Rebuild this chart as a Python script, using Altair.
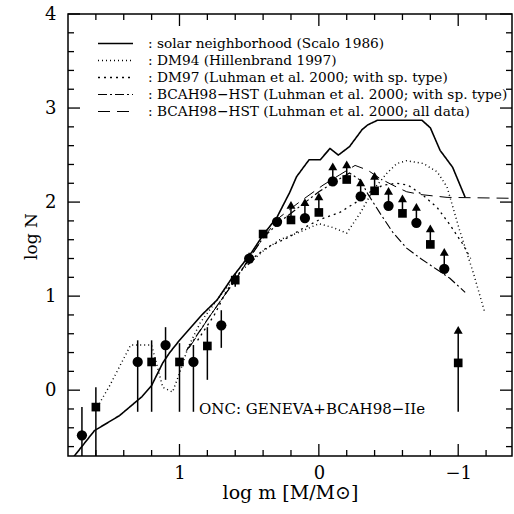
import altair as alt
import pandas as pd

# ---------------- data ----------------
solar_x = [1.76, 1.61, 1.43, 1.27, 1.20, 1.12, 1.07, 1.00, 0.84, 0.73, 0.62, 0.48, 0.40, 0.30,
           0.21, 0.16, 0.07, -0.01, -0.08, -0.14, -0.22, -0.31, -0.35, -0.42, -0.74, -0.80,
           -0.87, -0.96, -1.05]
solar_y = [-0.71, -0.43, -0.27, -0.07, 0.05, 0.29, 0.40, 0.53, 0.80, 0.96, 1.20, 1.47, 1.65, 1.84,
           2.10, 2.27, 2.45, 2.45, 2.57, 2.50, 2.59, 2.77, 2.82, 2.87, 2.87, 2.79,
           2.55, 2.37, 2.05]

dm94_x = [1.59, 1.50, 1.35, 1.20, 1.12, 1.05, 1.00, 0.94, 0.85, 0.70, 0.55, 0.40, 0.28, 0.14,
          0.00, -0.10, -0.20, -0.30, -0.39, -0.49, -0.56, -0.63, -0.75, -0.85, -0.92, -1.01,
          -1.11, -1.19]
dm94_y = [-0.18, 0.05, 0.48, 0.48, 0.03, -0.02, 0.18, 0.45, 0.72, 1.02, 1.28, 1.48, 1.60, 1.68,
          1.77, 1.73, 1.67, 1.89, 2.13, 2.31, 2.41, 2.44, 2.41, 2.32, 2.16, 1.70,
          1.24, 0.83]

dm97_x = [0.87, 0.75, 0.66, 0.52, 0.37, 0.21, 0.14, 0.00, -0.15, -0.27, -0.37, -0.46, -0.56,
          -0.64, -0.75, -0.85, -0.94, -1.03, -1.09]
dm97_y = [0.53, 0.80, 1.06, 1.35, 1.52, 1.63, 1.70, 1.81, 1.89, 2.00, 2.11, 2.18, 2.20,
          2.18, 2.07, 1.94, 1.76, 1.56, 1.40]

bsp_x = [0.95, 0.80, 0.60, 0.50, 0.40, 0.28, 0.14, 0.00, -0.13, -0.22, -0.30, -0.35, -0.44,
         -0.53, -0.63, -0.73, -0.85, -0.94, -1.05]
bsp_y = [0.42, 0.75, 1.17, 1.40, 1.62, 1.79, 1.95, 2.11, 2.23, 2.31, 2.23, 2.09, 1.88,
         1.68, 1.51, 1.40, 1.28, 1.19, 1.04]

ball_x = [0.93, 0.80, 0.60, 0.50, 0.40, 0.28, 0.14, -0.03, -0.15, -0.26, -0.35, -0.44, -0.53,
          -0.63, -0.73, -0.92, -1.40]
ball_y = [0.45, 0.75, 1.17, 1.40, 1.62, 1.84, 2.00, 2.18, 2.29, 2.39, 2.34, 2.25, 2.18,
          2.11, 2.08, 2.05, 2.04]

series_labels = [
    ": solar neighborhood (Scalo 1986)",
    ": DM94 (Hillenbrand 1997)",
    ": DM97 (Luhman et al. 2000; with sp. type)",
    ": BCAH98\u2212HST (Luhman et al. 2000; with sp. type)",
    ": BCAH98\u2212HST (Luhman et al. 2000; all data)",
]

pt_x = [1.7, 1.6, 1.3, 1.2, 1.1, 1.0, 0.9, 0.8, 0.7, 0.6, 0.5, 0.4, 0.3, 0.2, 0.1, 0.0,
        -0.1, -0.2, -0.3, -0.4, -0.5, -0.6, -0.7, -0.8, -0.9, -1.0]
pt_y = [-0.48, -0.18, 0.30, 0.30, 0.48, 0.30, 0.30, 0.47, 0.69, 1.17, 1.40, 1.66, 1.79, 1.81,
        1.83, 1.89, 2.22, 2.24, 2.06, 2.12, 1.96, 1.88, 1.78, 1.55, 1.29, 0.29]
pt_shape = ["circle", "square", "circle", "square", "circle", "square", "circle", "square",
            "circle", "square", "circle", "square", "circle", "square", "circle", "square",
            "circle", "square", "circle", "square", "circle", "square", "circle", "square",
            "circle", "square"]
pt_lo = [-0.80, -0.80, -0.23, -0.23, 0.11, -0.23, -0.23, 0.11, 0.45, 1.10, 1.34, 1.66, 1.79, 1.81,
         1.83, 1.89, 2.22, 2.24, 2.06, 2.12, 1.96, 1.88, 1.78, 1.55, 1.29, -0.23]
pt_hi = [-0.18, 0.03, 0.53, 0.53, 0.67, 0.50, 0.48, 0.67, 0.85, 1.24, 1.46, 1.66, 1.79, 1.81,
         1.83, 1.89, 2.22, 2.24, 2.06, 2.12, 1.96, 1.88, 1.78, 1.55, 1.29, 0.29]
pt_arrow = [0, 0, 0, 0, 0, 0, 0, 0, 0, 0, 0, 0, 0, 0.16,
            0.17, 0.17, 0.16, 0.16, 0.15, 0.16, 0.16, 0.16, 0.17, 0.17, 0.18, 0.35]

x_major = [1, 0, -1]
x_minor = [1.6, 1.4, 1.2, 0.8, 0.6, 0.4, 0.2, -0.2, -0.4, -0.6, -0.8, -1.2]
y_major = [0, 1, 2, 3, 4]
y_minor = [-0.6, -0.4, -0.2, 0.2, 0.4, 0.6, 0.8, 1.2, 1.4, 1.6, 1.8, 2.2, 2.4, 2.6, 2.8,
           3.2, 3.4, 3.6, 3.8]

annot_text = ["ONC: GENEVA+BCAH98\u2212IIe"]
annot_x = [0.86]
annot_y = [-0.20]

# ---------------- tables ----------------
rows = []
for lab, xs, ys in zip(series_labels,
                       [solar_x, dm94_x, dm97_x, bsp_x, ball_x],
                       [solar_y, dm94_y, dm97_y, bsp_y, ball_y]):
    for i, (a, b) in enumerate(zip(xs, ys)):
        rows.append({"series": lab, "x": a, "y": b, "order": i})
lines_df = pd.DataFrame(rows)

pts = pd.DataFrame({"x": pt_x, "y": pt_y, "shape": pt_shape, "lo": pt_lo, "hi": pt_hi,
                    "arrow": pt_arrow})
pts["top"] = pts["y"] + pts["arrow"]

W, H = 444, 442
FONT = "DejaVu Serif"

xscale = alt.Scale(domain=[-1.386, 1.8], reverse=True, nice=False, zero=False)
yscale = alt.Scale(domain=[-0.7, 4.0], nice=False, zero=False)

X_AX = alt.Axis(values=x_major, format="d", labelFontSize=18, labelPadding=8,
                title="log m  [M/M\u2299]", titleFontSize=19,
                titleY=42, titleBaseline="alphabetic", ticks=False, domain=False, grid=False)
Y_AX = alt.Axis(values=y_major, format="d", labelFontSize=18, labelPadding=12,
                title="log N", titleFontSize=17,
                titleX=-37, titleY=222, titleAlign="center", titleBaseline="middle",
                ticks=False, domain=False, grid=False)

legend = alt.Legend(orient="none", legendX=29, legendY=25, title=None, padding=0,
                    symbolType="stroke", symbolSize=1225, clipHeight=9,
                    labelFont=FONT, labelFontSize=13.7, labelOffset=14, labelLimit=0,
                    labelColor="black", symbolStrokeColor="black")

dash_range = [[1, 0], [1, 3], [2, 4], [9, 3, 2, 3], [12, 7]]
width_range = [1.6, 1.0, 2.0, 1.3, 1.3]


def X(field="x"):
    return alt.X(f"{field}:Q", scale=xscale, axis=X_AX)


def Y(field="y"):
    return alt.Y(f"{field}:Q", scale=yscale, axis=Y_AX)


lines = alt.Chart(lines_df).mark_line(color="black", clip=True).encode(
    x=X(), y=Y(),
    order="order:Q",
    strokeDash=alt.StrokeDash("series:N", scale=alt.Scale(domain=series_labels, range=dash_range),
                              legend=legend),
    strokeWidth=alt.StrokeWidth("series:N", scale=alt.Scale(domain=series_labels, range=width_range),
                                legend=legend),
    detail="series:N",
)

errs = alt.Chart(pts).transform_filter("datum.hi > datum.lo").mark_rule(
    color="black", strokeWidth=1.5, clip=True).encode(
    x=X(), y=Y("lo"), y2="hi:Q")

arrow_lines = alt.Chart(pts).transform_filter("datum.arrow > 0").mark_rule(
    color="black", strokeWidth=1.5, clip=True).encode(
    x=X(), y=Y(), y2="top:Q")

arrow_heads = alt.Chart(pts).transform_filter("datum.arrow > 0").mark_point(
    shape="triangle-up", filled=True, color="black", size=80, opacity=1, clip=True).encode(
    x=X(), y=Y("top"))

circles = alt.Chart(pts).transform_filter("datum.shape == 'circle'").mark_point(
    shape="circle", filled=True, color="black", size=105, opacity=1, clip=True).encode(
    x=X(), y=Y())

squares = alt.Chart(pts).transform_filter("datum.shape == 'square'").mark_point(
    shape="square", filled=True, color="black", size=75, opacity=1, clip=True).encode(
    x=X(), y=Y())

annot = alt.Chart(pd.DataFrame({"x": annot_x, "y": annot_y, "t": annot_text})).mark_text(
    align="left", baseline="middle", font=FONT, fontSize=15, color="black").encode(
    x=X(), y=Y(), text="t:N")

# inward ticks on all four sides
xt = pd.DataFrame({"x": x_major + x_minor, "major": [1] * len(x_major) + [0] * len(x_minor)})
yt = pd.DataFrame({"y": y_major + y_minor, "major": [1] * len(y_major) + [0] * len(y_minor)})

MAJ, MIN = 12, 6
tick_layers = []
for major, L in [(1, MAJ), (0, MIN)]:
    bx = alt.Chart(xt).transform_filter(f"datum.major == {major}").mark_rule(
        color="black", strokeWidth=1.3)
    tick_layers.append(bx.encode(x=X(), y=alt.value(H), y2=alt.value(H - L)))
    tick_layers.append(bx.encode(x=X(), y=alt.value(0), y2=alt.value(L)))
    by = alt.Chart(yt).transform_filter(f"datum.major == {major}").mark_rule(
        color="black", strokeWidth=1.3)
    tick_layers.append(by.encode(y=Y(), x=alt.value(0), x2=alt.value(L)))
    tick_layers.append(by.encode(y=Y(), x=alt.value(W), x2=alt.value(W - L)))

chart = alt.layer(lines, errs, arrow_lines, arrow_heads, circles, squares, annot,
                  *tick_layers).properties(
    width=W, height=H,
    padding={"left": 68, "top": 14, "right": 2, "bottom": 58},
    autosize=alt.AutoSizeParams(type="none"),
    background="white",
).configure_view(stroke="black", strokeWidth=1.5).configure_axis(
    labelFont=FONT, titleFont=FONT, labelColor="black", titleColor="black",
    titleFontWeight="normal",
)

chart.save("out.html", embed_options={"renderer": "svg", "actions": False})
